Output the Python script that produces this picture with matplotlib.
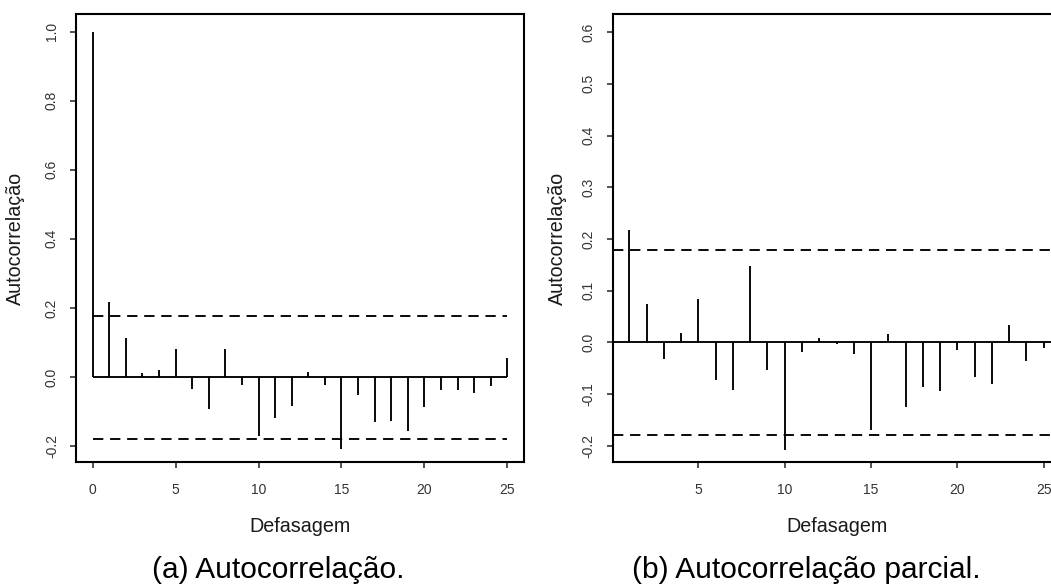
import matplotlib
matplotlib.use('Agg')
import matplotlib.pyplot as plt

# === DATA ===
acf_lags = list(range(0, 26))
acf_vals = [1.0, 0.217, 0.114, 0.012, 0.019, 0.082, -0.035, -0.094, 0.082, -0.022,
            -0.172, -0.119, -0.084, 0.016, -0.022, -0.208, -0.051, -0.130, -0.126,
            -0.155, -0.087, -0.038, -0.038, -0.045, -0.025, 0.056]

pacf_lags = list(range(1, 26))
pacf_vals = [0.217, 0.075, -0.032, 0.018, 0.084, -0.072, -0.091, 0.147, -0.054,
             -0.208, -0.019, 0.008, -0.003, -0.022, -0.169, 0.016, -0.124, -0.086,
             -0.093, -0.015, -0.066, -0.080, 0.033, -0.035, -0.011]

ci = 0.178  # 1.96/sqrt(n)

acf_yticks = [-0.2, 0.0, 0.2, 0.4, 0.6, 0.8, 1.0]
acf_xticks = [0, 5, 10, 15, 20, 25]
pacf_yticks = [-0.2, -0.1, 0.0, 0.1, 0.2, 0.3, 0.4, 0.5, 0.6]
pacf_xticks = [5, 10, 15, 20, 25]

ylabel = 'Autocorrelação'
xlabel = 'Defasagem'
captions = ['(a) Autocorrelação.', '(b) Autocorrelação parcial.']

# === STYLE ===
plt.rcParams['font.family'] = ['Liberation Sans', 'DejaVu Sans']
LW = 1.35
DASH = (0, (5.5, 3.6))
TICK_COLOR = '#333333'
LABEL_COLOR = '#1a1a1a'

fig = plt.figure(figsize=(10.51, 5.88), dpi=100)
ax1 = fig.add_axes([76 / 1051, 1 - 462 / 588, 448 / 1051, 448 / 588])
ax2 = fig.add_axes([612.7 / 1051, 1 - 462 / 588, 447.6 / 1051, 448 / 588])


def style_axes(ax, yticks, xticks, ylabel_x):
    for s in ax.spines.values():
        s.set_linewidth(1.5)
    ax.set_yticks(yticks)
    ax.set_yticklabels([f'{v:.1f}' for v in yticks])
    ax.set_xticks(xticks)
    ax.set_xticklabels([str(v) for v in xticks])
    ax.tick_params(axis='both', length=4.3, width=1.1, labelsize=10,
                   labelcolor=TICK_COLOR, color='#222222')
    ax.tick_params(axis='y', pad=8.0)
    ax.tick_params(axis='x', pad=10.5)
    plt.setp(ax.get_yticklabels(), rotation=90, va='center')
    ax.set_ylabel(ylabel, fontsize=14.2, color=LABEL_COLOR)
    ax.set_xlabel(xlabel, fontsize=14.2, color=LABEL_COLOR)
    ax.yaxis.set_label_coords(ylabel_x, 0.5)
    ax.xaxis.set_label_coords(0.5, -0.123)


# (a) ACF
ax1.vlines(acf_lags, 0, acf_vals, color='black', lw=LW)
ax1.hlines(0, acf_lags[0], acf_lags[-1], color='black', lw=LW)
ax1.hlines([ci, -ci], acf_lags[0], acf_lags[-1], color='black', lw=LW, linestyles=[DASH])
ax1.set_xlim(-1.0, 26.0)
ax1.set_ylim(-0.246, 1.051)
style_axes(ax1, acf_yticks, acf_xticks, -0.114)

# (b) PACF
ax2.vlines(pacf_lags, 0, pacf_vals, color='black', lw=LW)
ax2.axhline(0, color='black', lw=LW)
ax2.axhline(ci, color='black', lw=LW, linestyle=DASH)
ax2.axhline(-ci, color='black', lw=LW, linestyle=DASH)
ax2.set_xlim(0.04, 25.96)
ax2.set_ylim(-0.231, 0.635)
style_axes(ax2, pacf_yticks, pacf_xticks, -0.102)

# captions
fig.text(152 / 1051, 1 - 570 / 588, captions[0], fontsize=21.5, ha='left', va='center',
         color='black')
fig.text(632 / 1051, 1 - 570 / 588, captions[1], fontsize=21.5, ha='left', va='center',
         color='black')

fig.savefig('out.png', dpi=100)
